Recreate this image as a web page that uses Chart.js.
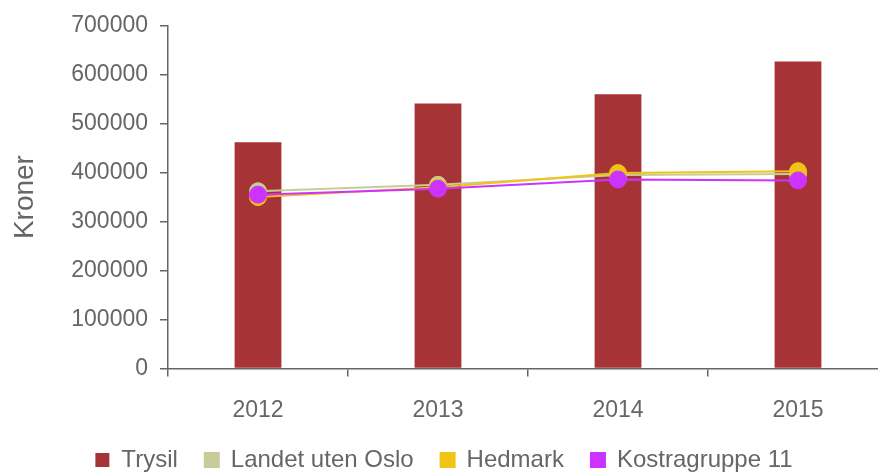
<!DOCTYPE html>
<html>
<head>
<meta charset="utf-8">
<script src="https://cdn.jsdelivr.net/npm/chart.js@4.4.1/dist/chart.umd.min.js"></script>
<style>
  html, body { margin: 0; padding: 0; background: #fff; overflow: hidden; }
  #wrap { position: relative; width: 900px; height: 473px; }
</style>
</head>
<body>
<div id="wrap"><canvas id="c" width="900" height="473"></canvas></div>
<script>
const categories = ["2012", "2013", "2014", "2015"];
const trysil = [462000, 541000, 560000, 627000];
const landetUtenOslo = [362000, 375000, 395000, 397000];
const hedmark = [350000, 370000, 399000, 403000];
const kostragruppe11 = [355000, 367000, 386000, 384000];
const yTicks = [0, 100000, 200000, 300000, 400000, 500000, 600000, 700000];

const textColor = '#666666';
const axisColor = '#666666';
const fontFamily = '"Liberation Sans", Arial, sans-serif';

function lineDs(label, data, color, order) {
  return {
    type: 'line', label, data, order,
    borderColor: color, backgroundColor: color,
    pointBackgroundColor: color, pointBorderColor: color,
    borderWidth: 2, pointRadius: 8.5, pointBorderWidth: 1,
    fill: false, tension: 0
  };
}

new Chart(document.getElementById('c'), {
  type: 'bar',
  data: {
    labels: categories,
    datasets: [
      { type: 'bar', label: 'Trysil', data: trysil, order: 4,
        backgroundColor: '#A63336', borderColor: '#A63336', borderWidth: 0,
        barPercentage: 0.52, categoryPercentage: 0.5 },
      lineDs('Landet uten Oslo', landetUtenOslo, '#C8CC98', 3),
      lineDs('Hedmark', hedmark, '#F0C416', 2),
      lineDs('Kostragruppe 11', kostragruppe11, '#CC33FF', 1)
    ]
  },
  options: {
    responsive: false,
    animation: false,
    layout: { padding: { top: 25, right: 12, left: 0, bottom: -9 } },
    plugins: {
      tooltip: { enabled: false },
      legend: {
        position: 'bottom',
        labels: {
          boxWidth: 14, boxHeight: 14, padding: 27,
          color: textColor,
          font: { family: fontFamily, size: 24 },
          sort: (a, b) => a.datasetIndex - b.datasetIndex
        }
      }
    },
    scales: {
      x: {
        afterFit: (s) => { s.height = s.height - 23; },
        grid: { display: true, drawOnChartArea: false, offset: true, tickLength: 8, color: axisColor, lineWidth: 1.5 },
        border: { display: true, color: axisColor, width: 1.5 },
        ticks: { color: textColor, padding: 20, font: { family: fontFamily, size: 23 } }
      },
      y: {
        min: 0, max: 700000,
        afterBuildTicks: (s) => { s.ticks = yTicks.map(v => ({ value: v })); },
        afterFit: (s) => { s.width = 168; },
        grid: { display: true, drawOnChartArea: false, tickLength: 8, color: axisColor, lineWidth: 1.5 },
        border: { display: true, color: axisColor, width: 1.5 },
        ticks: { color: textColor, padding: 12, font: { family: fontFamily, size: 23 },
                 callback: (v) => String(v) },
        title: { display: true, text: 'Kroner', color: textColor, padding: { top: 8, bottom: 0 },
                 font: { family: fontFamily, size: 28 } }
      }
    }
  }
});
</script>
</body>
</html>
